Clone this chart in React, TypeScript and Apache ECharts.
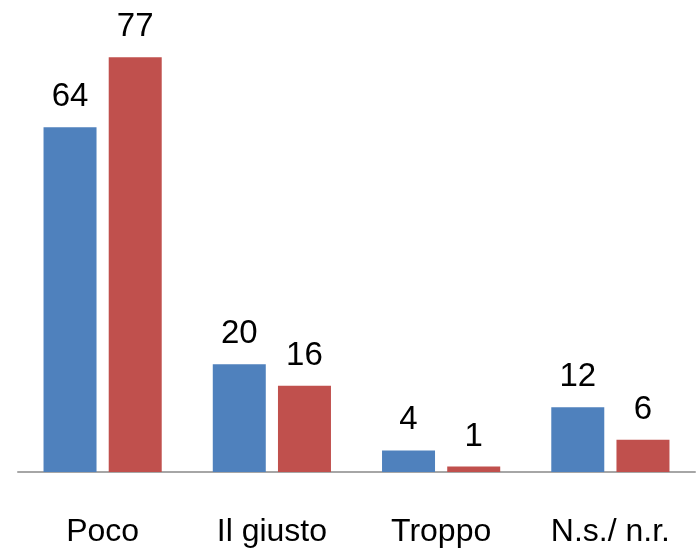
import React, { useEffect, useRef } from "react";
import * as echarts from "echarts";

const categories = ["Poco", "Il giusto", "Troppo", "N.s./ n.r."];
const seriesA = [64, 20, 4, 12];
const seriesB = [77, 16, 1, 6];

export default function App() {
  const ref = useRef<HTMLDivElement>(null);
  useEffect(() => {
    if (!ref.current) return;
    const chart = echarts.init(ref.current, undefined, { renderer: "svg" });
    const font = "'Liberation Sans', Arial, sans-serif";
    const label = {
      show: true,
      position: "top" as const,
      distance: 16,
      color: "#000",
      fontSize: 33,
      fontFamily: font,
    };
    chart.setOption({
      animation: false,
      grid: { left: 18, right: 1, top: 41, bottom: 79, containLabel: false },
      xAxis: {
        type: "category",
        data: categories,
        axisLine: { show: true, lineStyle: { color: "#a6a6a6", width: 2 } },
        axisTick: { show: false },
        axisLabel: {
          color: "#000",
          fontSize: 32,
          fontFamily: font,
          margin: 42,
          interval: 0,
        },
      },
      yAxis: {
        type: "value",
        min: 0,
        max: 80,
        show: false,
        splitLine: { show: false },
      },
      series: [
        {
          type: "bar",
          data: seriesA,
          barWidth: 53,
          barGap: "23%",
          itemStyle: { color: "#4F81BD" },
          label,
        },
        {
          type: "bar",
          data: seriesB,
          barWidth: 53,
          barGap: "23%",
          itemStyle: { color: "#C0504D" },
          label,
        },
      ],
    });
    return () => chart.dispose();
  }, []);
  return (
    <div
      ref={ref}
      style={{ position: "fixed", left: 0, top: 0, width: 696, height: 551 }}
    />
  );
}
